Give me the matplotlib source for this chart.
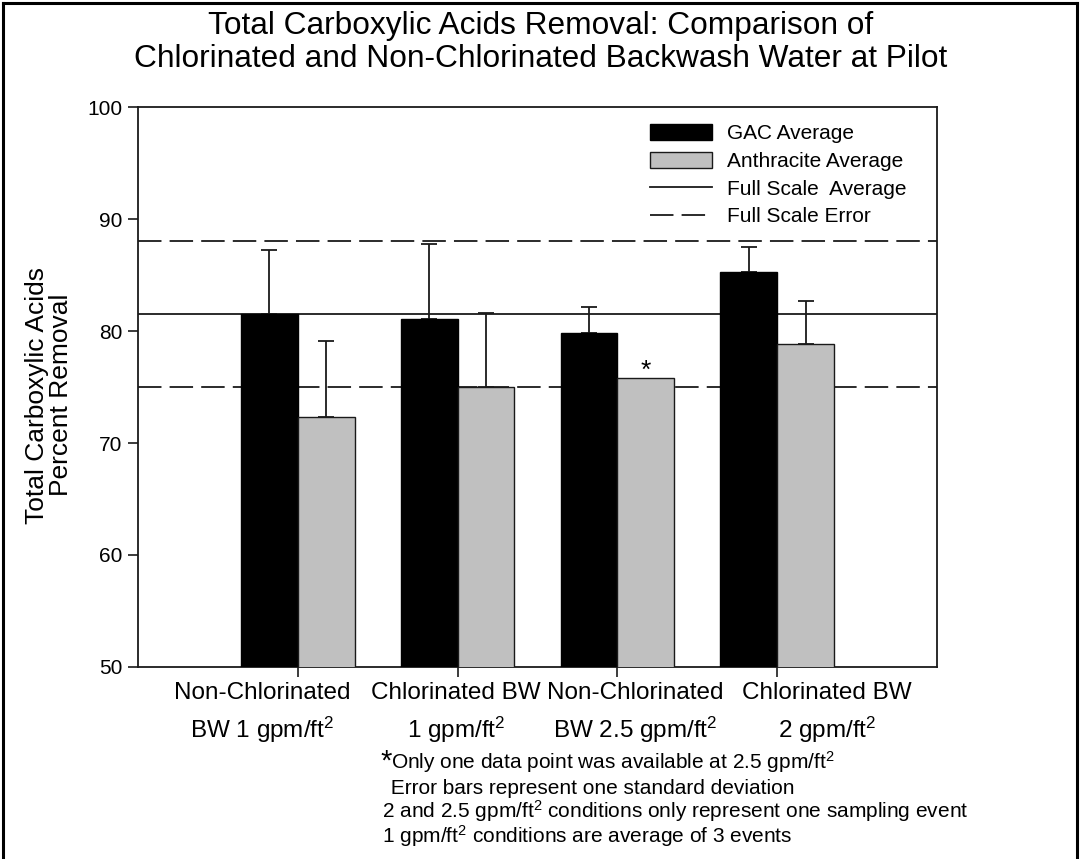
import matplotlib
matplotlib.use("Agg")
import matplotlib.pyplot as plt
from matplotlib.patches import Patch
from matplotlib.lines import Line2D
from matplotlib.transforms import blended_transform_factory
import numpy as np

categories = ["Non-Chlorinated\nBW 1 gpm/ft$^2$",
              "Chlorinated BW\n1 gpm/ft$^2$",
              "Non-Chlorinated\nBW 2.5 gpm/ft$^2$",
              "Chlorinated BW\n2 gpm/ft$^2$"]
gac_avg = [81.5, 81.1, 79.8, 85.3]
gac_sd = [5.7, 6.7, 2.3, 2.2]
anth_avg = [72.3, 75.0, 75.8, 78.8]
anth_sd = [6.8, 6.6, 0.0, 3.9]
full_scale_avg = 81.5
full_scale_lo = 75.0
full_scale_hi = 88.0
yticks = [50, 60, 70, 80, 90, 100]
footnotes = ["Only one data point was available at 2.5 gpm/ft$^{2}$",
             " Error bars represent one standard deviation",
             "2 and 2.5 gpm/ft$^{2}$ conditions only represent one sampling event",
             "1 gpm/ft$^{2}$ conditions are average of 3 events"]

FONT = ["Liberation Sans", "DejaVu Sans"]
plt.rcParams['font.family'] = FONT
plt.rcParams['mathtext.fontset'] = 'custom'
plt.rcParams['mathtext.rm'] = 'Liberation Sans'
plt.rcParams['mathtext.it'] = 'Liberation Sans'

W, H = 1081, 859
fig = plt.figure(figsize=(W / 100, H / 100), dpi=100)
ax = fig.add_axes([138 / W, 1 - 667 / H, 799 / W, 560 / H])

def fy(px):
    return 1 - px / H

def fx(px):
    return px / W

ink = '#1a1a1a'
x = np.arange(len(categories))
w = 0.355
ax.bar(x - w / 2, gac_avg, width=w, color='black', edgecolor='black', linewidth=1, zorder=3)
ax.bar(x + w / 2, anth_avg, width=w, color='#c0c0c0', edgecolor=ink, linewidth=1, zorder=3)

gac_err = np.array(gac_sd)
anth_err = np.array(anth_sd)
ax.errorbar(x - w / 2, gac_avg, yerr=[np.zeros_like(gac_err), gac_err], fmt='none',
            ecolor=ink, elinewidth=1.3, capsize=6, capthick=1.3, zorder=2)
mask = anth_err > 0
ax.errorbar((x + w / 2)[mask], np.array(anth_avg)[mask],
            yerr=[np.zeros(mask.sum()), anth_err[mask]], fmt='none',
            ecolor=ink, elinewidth=1.3, capsize=6, capthick=1.3, zorder=2)

ax.axhline(full_scale_avg, color=ink, lw=1.3, zorder=1)
for v in (full_scale_lo, full_scale_hi):
    ax.axhline(v, color=ink, lw=1.3, dashes=(13, 4.5), zorder=1)

# asterisk for single data point
ax.text(x[2] + w / 2, anth_avg[2] + 0.0, '*', ha='center', va='baseline', fontsize=19)

ax.set_xlim(-1, 4)
ax.set_ylim(50, 100)
ax.set_yticks(yticks)
ax.set_xticks(x)
ax.set_xticklabels([])
ax.tick_params(axis='y', labelsize=15, length=7, width=1.2, direction='out', pad=4,
               colors=ink, labelcolor='black')
ax.tick_params(axis='x', length=7, width=1.2, direction='out', colors=ink)
for s in ax.spines.values():
    s.set_linewidth(1.3)
    s.set_color(ink)

# category labels (placed as in the original, two lines each)
label_x = [-0.225, 0.99, 2.11, 3.31]
trans = blended_transform_factory(ax.transData, fig.transFigure)
for lx, cat in zip(label_x, categories):
    l1, l2 = cat.split('\n')
    ax.text(lx, fy(699), l1, transform=trans, ha='center', va='baseline', fontsize=17.5)
    ax.text(lx, fy(738), l2, transform=trans, ha='center', va='baseline', fontsize=17.5)

fig.text(fx(49), fy(395), "Total Carboxylic Acids\nPercent Removal", rotation=90,
         ha='center', va='center', fontsize=19, linespacing=0.95)

fig.text(0.5, fy(11), "Total Carboxylic Acids Removal: Comparison of\n"
         "Chlorinated and Non-Chlorinated Backwash Water at Pilot",
         ha='center', va='top', fontsize=22.8, linespacing=1.15)

handles = [Patch(facecolor='black', edgecolor='black'),
           Patch(facecolor='#c0c0c0', edgecolor=ink),
           Line2D([], [], color=ink, lw=1.3),
           Line2D([], [], color=ink, lw=1.3, dashes=(13, 4.5))]
labels = ["GAC Average", "Anthracite Average", "Full Scale  Average", "Full Scale Error"]
leg = fig.legend(handles, labels, loc='upper left', bbox_to_anchor=(fx(650), fy(124)),
                 frameon=False, fontsize=15, handlelength=2.97, handleheight=0.8,
                 handletextpad=0.72, labelspacing=0.41, borderaxespad=0, borderpad=0)

# footnotes
fig.text(fx(392), fy(770), '*', fontsize=21, ha='right', va='baseline')
ys = [769, 794, 818, 843]
xs = [391, 385, 382, 382]
for t, xx, yy in zip(footnotes, xs, ys):
    fig.text(fx(xx), fy(yy), t, fontsize=15, ha='left', va='baseline')

# outer frame
fig.add_artist(Line2D([fx(3), fx(3)], [0.0, fy(3)], color='black', lw=2.2, transform=fig.transFigure))
fig.add_artist(Line2D([fx(3), fx(1077)], [fy(3), fy(3)], color='black', lw=2.2, transform=fig.transFigure))
fig.add_artist(Line2D([fx(1077), fx(1077)], [fy(3), 0.0], color='black', lw=2.2, transform=fig.transFigure))

fig.savefig("out.png", dpi=100)
